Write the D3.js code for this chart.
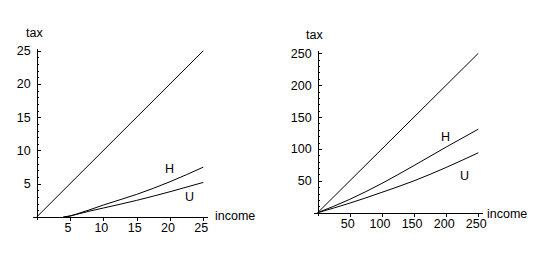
<!DOCTYPE html>
<html>
<head>
<meta charset="utf-8">
<script src="https://cdn.jsdelivr.net/npm/d3@7"></script>
<style>
body{margin:0;background:#fff;}
svg text{font-family:"Liberation Sans",Arial,sans-serif;font-size:12.5px;fill:#000;}
</style>
</head>
<body>
<svg width="552" height="262"></svg>
<script>
var svg=d3.select("svg");

// panneau gauche : revenu 0..25
var leftTicks=[5,10,15,20,25];
var leftDiag=[[0,0],[25,25]];
var leftH=[[4,0],[5,0.15],[6,0.45],[8,1.1],[10,1.8],[15,3.4],[20,5.3],[25,7.5]];
var leftU=[[4,0],[5,0.15],[6,0.4],[8,0.9],[10,1.35],[15,2.5],[20,3.8],[25,5.2]];

// panneau droit : revenu 0..250
var rightTicks=[50,100,150,200,250];
var rightDiag=[[0,0],[250,250]];
var rightH=[[0,0],[50,21],[100,46],[150,74],[200,103],[250,131]];
var rightU=[[0,0],[50,15],[100,32],[150,50],[200,71],[250,94]];

function panel(o)
{
	var x=d3.scaleLinear().domain([0,o.max]).range([o.x0,o.x1]);
	var y=d3.scaleLinear().domain([0,o.max]).range([o.y0,o.y1]);
	var g=svg.append("g");
	var step=o.max/25;

	//axes
	g.append("line").attr("x1",x(0)-4).attr("x2",x(o.max)+5)
	 .attr("y1",y(0)+0.5).attr("y2",y(0)+0.5)
	 .attr("stroke","black").attr("shape-rendering","crispEdges");
	g.append("line").attr("x1",x(0)+0.5).attr("x2",x(0)+0.5)
	 .attr("y1",y(0)+3).attr("y2",y(o.max)-2)
	 .attr("stroke","black").attr("shape-rendering","crispEdges");

	//graduations y
	var minor=d3.range(step,o.max+step/2,step);
	g.selectAll(".ym").data(minor).enter().append("line")
	 .attr("x1",x(0)).attr("x2",function(d){return x(0)+(o.ticks.indexOf(Math.round(d))>=0?4:2.5);})
	 .attr("y1",function(d){return Math.round(y(d))+0.5;})
	 .attr("y2",function(d){return Math.round(y(d))+0.5;})
	 .attr("stroke","black").attr("shape-rendering","crispEdges");
	g.selectAll(".yl").data(o.ticks).enter().append("text")
	 .attr("x",x(0)-6).attr("y",function(d){return y(d)+4.5;})
	 .attr("text-anchor","end").text(function(d){return d;});

	//graduations x
	g.selectAll(".xt").data(o.ticks).enter().append("line")
	 .attr("x1",function(d){return Math.round(x(d))+0.5;})
	 .attr("x2",function(d){return Math.round(x(d))+0.5;})
	 .attr("y1",y(0)).attr("y2",y(0)+4)
	 .attr("stroke","black").attr("shape-rendering","crispEdges");
	g.selectAll(".xl").data(o.ticks).enter().append("text")
	 .attr("x",function(d){return x(d)-2;}).attr("y",y(0)+15)
	 .attr("text-anchor","middle").text(function(d){return d;});

	//courbes
	var line=d3.line().x(function(d){return x(d[0]);}).y(function(d){return y(d[1]);}).curve(d3.curveMonotoneX);
	[o.diag,o.h,o.u].forEach(function(s)
	{
		g.append("path").attr("d",line(s)).attr("fill","none")
		 .attr("stroke","black").attr("stroke-width",1);
	});

	//textes
	g.append("text").attr("x",o.tax[0]).attr("y",o.tax[1]).text("tax");
	g.append("text").attr("x",o.inc[0]).attr("y",o.inc[1]).text("income");
	g.append("text").attr("x",o.hl[0]).attr("y",o.hl[1]).text("H");
	g.append("text").attr("x",o.ul[0]).attr("y",o.ul[1]).text("U");
}

panel({max:25,x0:36.7,x1:203.3,y0:217,y1:50.7,ticks:leftTicks,diag:leftDiag,h:leftH,u:leftU,
	tax:[26,37],inc:[215,220],hl:[165,173],ul:[185,201]});
panel({max:250,x0:317.7,x1:478.3,y0:212.7,y1:53.3,ticks:rightTicks,diag:rightDiag,h:rightH,u:rightU,
	tax:[306,39],inc:[487,218],hl:[441,141],ul:[460,180]});
</script>
</body>
</html>
